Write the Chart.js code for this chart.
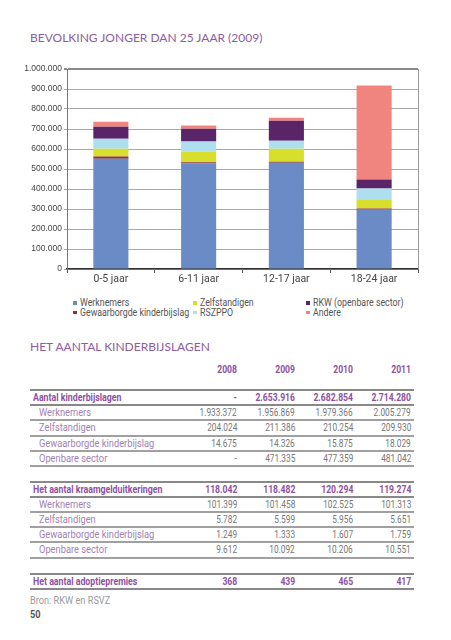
<!DOCTYPE html>
<html><head><meta charset="utf-8">
<script src="https://cdn.jsdelivr.net/npm/chart.js@4"></script>
<style>
body{margin:0;background:#fff;width:451px;height:640px;position:relative;overflow:hidden;font-family:Roboto,"Liberation Sans",sans-serif;}
.title{position:absolute;left:30px;font-family:Lato,sans-serif;font-size:12px;color:#8d5c9e;white-space:nowrap;line-height:13px;}
#c{position:absolute;left:0;top:55px;}
#legend{position:absolute;left:73px;top:298px;display:grid;grid-template-rows:9.5px 9.5px;grid-auto-flow:column;grid-template-columns:120px 113px auto;font-size:10px;color:#555;line-height:9.5px;white-space:nowrap;}
#legend .m{display:inline-block;width:3.5px;height:3.5px;margin-right:3px;vertical-align:1.5px;}
#legend .t{display:inline-block;transform-origin:left center;transform:scaleX(0.88);}
.line{position:absolute;left:30px;width:384px;height:2px;background:#9a9a9a;}
.row{position:absolute;left:30px;width:384px;height:15px;line-height:15px;font-size:10px;white-space:nowrap;}
.row span{position:absolute;}
.row .l{transform-origin:left center;transform:scaleX(0.93);}
.row .v{text-align:right;transform-origin:right center;transform:scaleX(0.83);}
.bold{font-weight:bold;color:#8e519f;}
.bold .l{transform:scaleX(0.88);}
.bold .v{transform:scaleX(0.86);}
.sub{color:#a182b2;}
.sub .v{color:#777;}
.note{position:absolute;left:30px;font-size:10px;line-height:12px;transform-origin:left center;transform:scaleX(0.92);}
</style></head>
<body>
<div class="title" style="top:31px">BEVOLKING JONGER DAN 25 JAAR (2009)</div>
<canvas id="c" width="451" height="235"></canvas>
<div id="legend"></div>
<div class="title" style="top:340px">HET AANTAL KINDERBIJSLAGEN</div>
<div id="table"></div>
<div class="note" style="top:595px;color:#9a9a9a">Bron: RKW en RSVZ</div>
<div class="note" style="top:609px;color:#555;font-weight:bold">50</div>
<script>
// ---- Chart data ----
const categories = ['0-5 jaar', '6-11 jaar', '12-17 jaar', '18-24 jaar'];
const werknemers   = [551000, 527000, 531000, 298000];
const gewaarborgde = [12000, 7000, 5000, 5000];
const zelfstandigen = [38000, 53000, 65000, 42000];
const rszppo       = [50000, 50000, 40000, 58000];
const rkw          = [60000, 64000, 100000, 45000];
const andere       = [25000, 16000, 15000, 470000];
const yTicks = [0, 100000, 200000, 300000, 400000, 500000, 600000, 700000, 800000, 900000, 1000000];

// ---- Table data ----
const years = ['2008', '2009', '2010', '2011'];
const kbTotal = ['-', '2.653.916', '2.682.854', '2.714.280'];
const kbWerknemers = ['1.933.372', '1.956.869', '1.979.366', '2.005.279'];
const kbZelfstandigen = ['204.024', '211.386', '210.254', '209.930'];
const kbGewaarborgde = ['14.675', '14.326', '15.875', '18.029'];
const kbOpenbare = ['-', '471.335', '477.359', '481.042'];
const kgTotal = ['118.042', '118.482', '120.294', '119.274'];
const kgWerknemers = ['101.399', '101.458', '102.525', '101.313'];
const kgZelfstandigen = ['5.782', '5.599', '5.956', '5.651'];
const kgGewaarborgde = ['1.249', '1.333', '1.607', '1.759'];
const kgOpenbare = ['9.612', '10.092', '10.206', '10.551'];
const adoptie = ['368', '439', '465', '417'];

const fmt = v => String(v).replace(/\B(?=(\d{3})+(?!\d))/g, '.');

const rightBorder = {
  id: 'rightBorder',
  afterDraw(chart) {
    const {ctx, chartArea: a} = chart;
    ctx.save();
    ctx.strokeStyle = '#9a9a9a';
    ctx.lineWidth = 1;
    ctx.beginPath();
    ctx.moveTo(Math.round(a.right) + 0.5, a.top);
    ctx.lineTo(Math.round(a.right) + 0.5, a.bottom);
    ctx.stroke();
    ctx.restore();
  }
};

const chart = new Chart(document.getElementById('c'), {
  type: 'bar',
  data: {
    labels: categories,
    datasets: [
      {label: 'Werknemers', data: werknemers, backgroundColor: '#6b8bc6'},
      {label: 'Gewaarborgde kinderbijslag', data: gewaarborgde, backgroundColor: '#8c3440'},
      {label: 'Zelfstandigen', data: zelfstandigen, backgroundColor: '#d7de2b'},
      {label: 'RSZPPO', data: rszppo, backgroundColor: '#addfee'},
      {label: 'RKW (openbare sector)', data: rkw, backgroundColor: '#5a2469'},
      {label: 'Andere', data: andere, backgroundColor: '#f0847f'}
    ]
  },
  options: {
    responsive: false,
    animation: false,
    devicePixelRatio: 1,
    layout: {padding: {top: 14, right: 33, left: 0, bottom: 0}},
    datasets: {bar: {categoryPercentage: 0.4, barPercentage: 1, borderWidth: 0}},
    plugins: {legend: {display: false}, tooltip: {enabled: false}},
    scales: {
      x: {
        stacked: true,
        afterFit: s => { s.height = 21; },
        grid: {offset: true, drawOnChartArea: false, drawTicks: true, tickLength: 4, color: '#555'},
        border: {color: '#333', width: 1.5},
        ticks: {padding: 0, color: '#444', font: {family: 'Roboto, sans-serif', size: 10.5}}
      },
      y: {
        stacked: true,
        min: 0, max: 1000000,
        afterFit: s => { s.width = 67; },
        afterBuildTicks: s => { s.ticks = yTicks.map(v => ({value: v})); },
        grid: {
          color: c => c.tick && c.tick.value === 1000000 ? '#8a8a8a' : '#a8a8a8',
          lineWidth: c => c.tick && c.tick.value === 1000000 ? 2 : 1,
          tickLength: 3
        },
        border: {color: '#777', width: 1},
        ticks: {padding: 2, color: '#444', callback: v => fmt(v), font: {family: '"Liberation Sans", Arial, sans-serif', size: 8.5}}
      }
    }
  },
  plugins: [rightBorder]
});

// HTML legend built from the chart's datasets (column-major, 2 rows)
const leg = document.getElementById('legend');
chart.data.datasets.forEach(ds => {
  const d = document.createElement('div');
  const m = document.createElement('span');
  m.className = 'm';
  m.style.background = ds.backgroundColor;
  d.appendChild(m);
  const t = document.createElement('span');
  t.className = 't';
  t.textContent = ds.label;
  d.appendChild(t);
  leg.appendChild(d);
});

// ---- Table ----
const T = document.getElementById('table');
const valRight = [177, 119, 61, 3];
function addLine(top, color) {
  const l = document.createElement('div');
  l.className = 'line';
  l.style.top = top + 'px';
  if (color) l.style.background = color;
  T.appendChild(l);
}
function addRow(top, label, vals, cls) {
  const r = document.createElement('div');
  r.className = 'row ' + cls;
  r.style.top = top + 'px';
  const lab = document.createElement('span');
  lab.className = 'l';
  lab.textContent = label;
  lab.style.left = cls === 'sub' ? '9px' : '3px';
  r.appendChild(lab);
  vals.forEach((v, i) => {
    const s = document.createElement('span');
    s.className = 'v';
    s.textContent = v;
    s.style.right = valRight[i] + 'px';
    r.appendChild(s);
  });
  T.appendChild(r);
}
addRow(361.5, '', years, 'bold');
function block(start, rows) {
  const h = 15.2;
  addLine(Math.round(start), '#888');
  rows.forEach((rw, i) => {
    addRow(Math.round(start + i * h) + 1, rw[0], rw[1], i === 0 ? 'bold' : 'sub');
    addLine(Math.round(start + (i + 1) * h), i === 0 ? '#888' : '#a0a0a0');
  });
}
block(389, [
  ['Aantal kinderbijslagen', kbTotal],
  ['Werknemers', kbWerknemers],
  ['Zelfstandigen', kbZelfstandigen],
  ['Gewaarborgde kinderbijslag', kbGewaarborgde],
  ['Openbare sector', kbOpenbare]
]);
block(480.5, [
  ['Het aantal kraamgelduitkeringen', kgTotal],
  ['Werknemers', kgWerknemers],
  ['Zelfstandigen', kgZelfstandigen],
  ['Gewaarborgde kinderbijslag', kgGewaarborgde],
  ['Openbare sector', kgOpenbare]
]);
block(573, [
  ['Het aantal adoptiepremies', adoptie]
]);
</script>
</body></html>
